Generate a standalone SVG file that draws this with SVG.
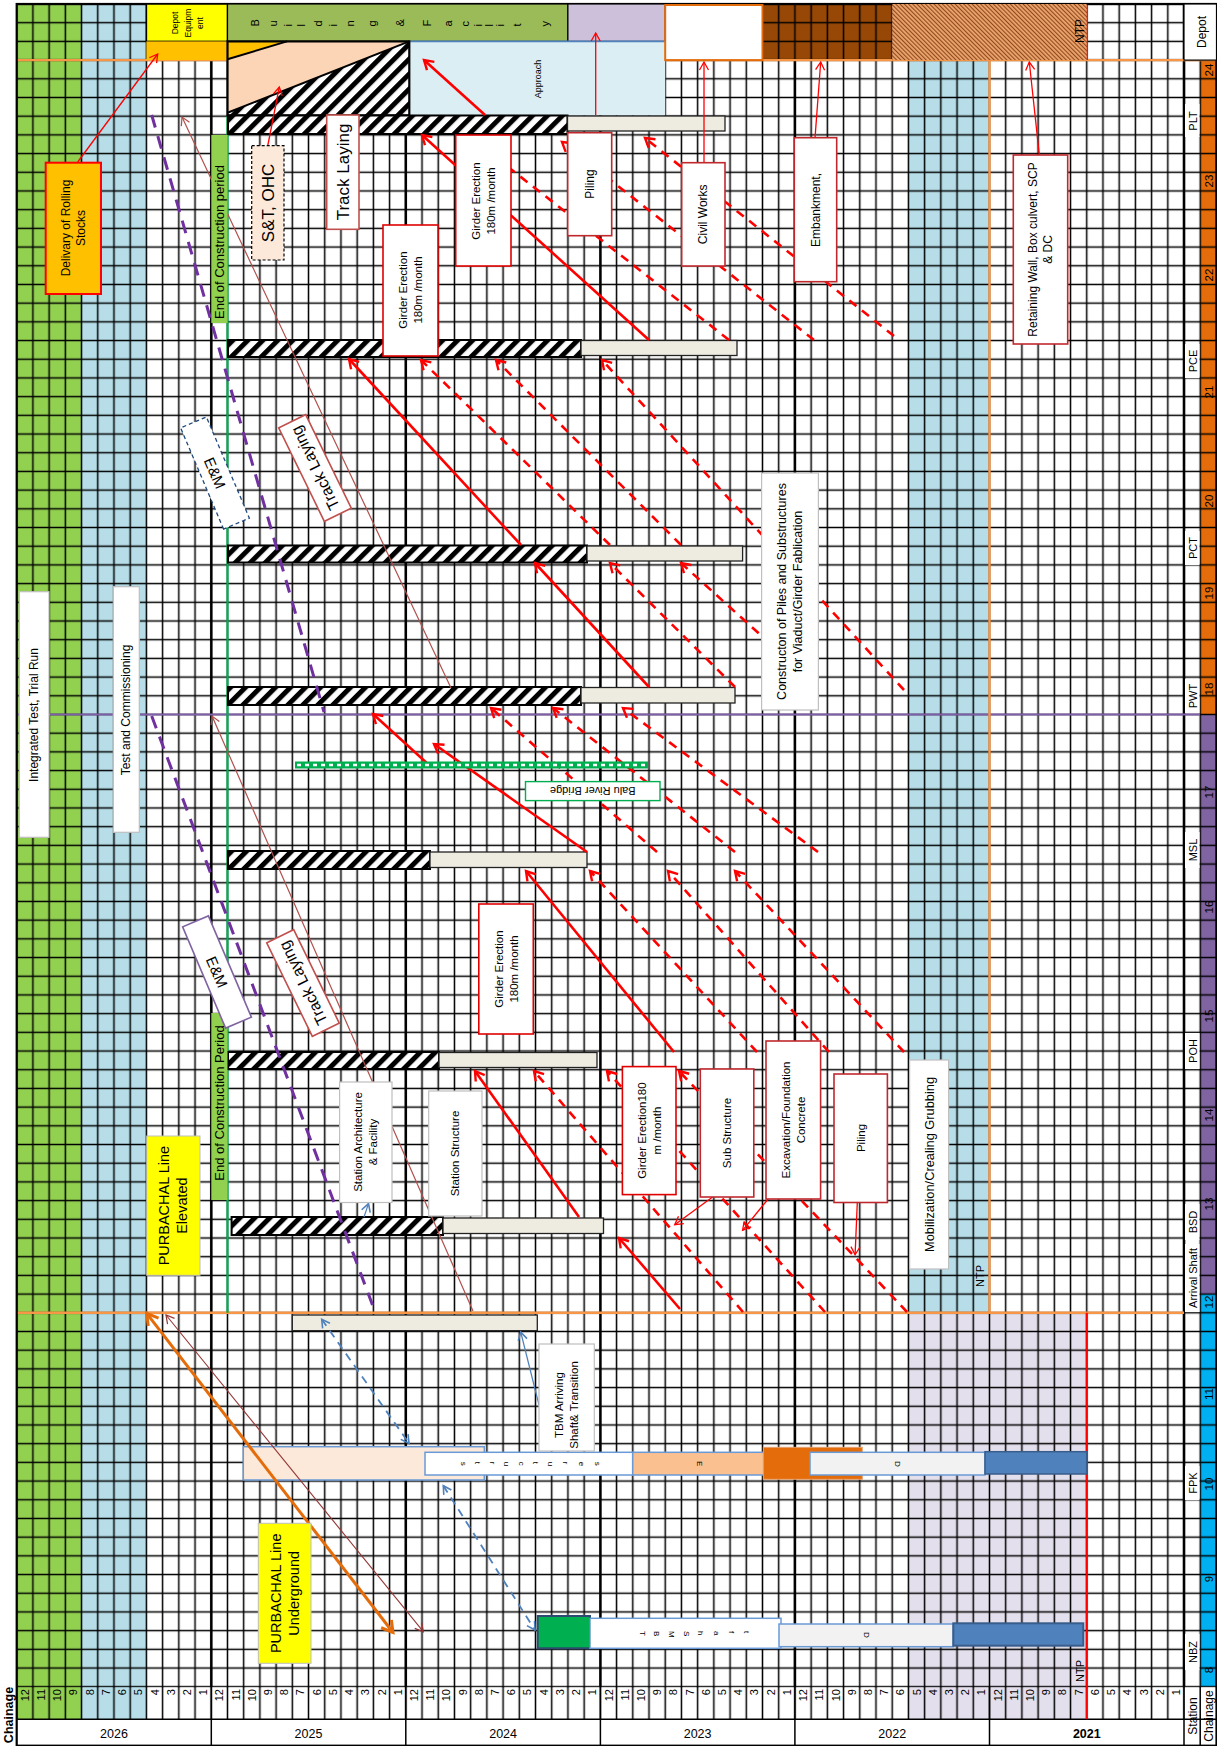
<svg xmlns="http://www.w3.org/2000/svg" width="1217" height="1746" viewBox="0 0 1217 1746">
<defs>
<style>
.t{font-family:"Liberation Sans",Arial,sans-serif;fill:#000}
.rb{fill:#fff;stroke:#E00000;stroke-width:1.6}
.db{fill:#fff;stroke:#C0282D;stroke-width:1.6}
.gb{fill:#fff;stroke:#BFBFBF;stroke-width:1.2}
.hb{fill:url(#hatch);stroke:#000;stroke-width:2}
.gr{fill:#EEECE1;stroke:#222;stroke-width:1.3}
.sr{stroke:#FF0000;stroke-width:2.6;fill:none}
.dr{stroke:#FF0000;stroke-width:2.6;fill:none;stroke-dasharray:9 7}
.tr{stroke:#FF0000;stroke-width:1.3;fill:none}
.tb{stroke:#B0504D;stroke-width:1.2;fill:none}
.pd{stroke:#7030A0;stroke-width:3;fill:none;stroke-dasharray:13 9}
.bd{stroke:#4F81BD;stroke-width:1.8;fill:none;stroke-dasharray:8 6}
</style>
<pattern id="grid" patternUnits="userSpaceOnUse" x="8.5935" y="-5.3485" width="16.213" height="18.697"><path d="M0 9.3485H16.213M8.1065 0V18.697" stroke="#000" stroke-width="1.5" fill="none"/></pattern>
<pattern id="vgrid" patternUnits="userSpaceOnUse" x="8.5935" y="0" width="16.213" height="40"><path d="M8.1065 0V40" stroke="#000" stroke-width="1.5" fill="none"/></pattern>
<pattern id="hatch" patternUnits="userSpaceOnUse" width="10.6" height="10.6" patternTransform="rotate(45)"><rect width="10.6" height="10.6" fill="#fff"/><rect width="5" height="10.6" fill="#000"/></pattern>
<pattern id="fine" patternUnits="userSpaceOnUse" width="3" height="3" patternTransform="rotate(-45)"><rect width="3" height="3" fill="#EDA46E"/><rect width="1.1" height="3" fill="#8E4A1C"/></pattern>
<marker id="aR" markerUnits="userSpaceOnUse" markerWidth="14" markerHeight="14" refX="11" refY="7" orient="auto"><path d="M2,1.5 L11,7 L2,12.5" fill="none" stroke="#FF0000" stroke-width="2.4" stroke-dasharray="none"/></marker>
<marker id="aRt" markerUnits="userSpaceOnUse" markerWidth="12" markerHeight="12" refX="10" refY="6" orient="auto"><path d="M2,1.5 L10,6 L2,10.5" fill="none" stroke="#FF0000" stroke-width="1.3"/></marker>
<marker id="aBr" markerUnits="userSpaceOnUse" markerWidth="12" markerHeight="12" refX="10" refY="6" orient="auto"><path d="M2,1.5 L10,6 L2,10.5" fill="none" stroke="#B0504D" stroke-width="1.2"/></marker>
<marker id="aO" markerUnits="userSpaceOnUse" markerWidth="16" markerHeight="16" refX="13" refY="8" orient="auto-start-reverse"><path d="M2,1.5 L13,8 L2,14.5" fill="none" stroke="#E46C0A" stroke-width="3"/></marker>
<marker id="aB" markerUnits="userSpaceOnUse" markerWidth="12" markerHeight="12" refX="10" refY="6" orient="auto-start-reverse"><path d="M2,1.5 L10,6 L2,10.5" fill="none" stroke="#4F81BD" stroke-width="1.6" stroke-dasharray="none"/></marker>
<marker id="aBd" markerUnits="userSpaceOnUse" markerWidth="12" markerHeight="12" refX="10" refY="6" orient="auto-start-reverse"><path d="M2,1.5 L10,6 L2,10.5" fill="none" stroke="#943634" stroke-width="1.2"/></marker>
</defs>

<g id="background">
<rect x="0" y="0" width="1217" height="1746" fill="#fff"/>
<rect x="16.7" y="4" width="64.9" height="1715.3" fill="#92D050"/>
<rect x="81.6" y="4" width="64.8" height="1715.3" fill="#B7DEE8"/>
<rect x="908.4" y="60.1" width="81.1" height="1252.7" fill="#B7DEE8"/>
<rect x="908.4" y="1312.8" width="178.4" height="406.5" fill="#E4DFEC"/>
<rect x="762.5" y="4" width="129.7" height="56.1" fill="#974806"/>
<rect x="1200.2" y="60.1" width="16.3" height="654.4" fill="#E46C0A"/>
<rect x="1200.2" y="714.5" width="16.3" height="579.6" fill="#8064A2"/>
<rect x="1200.2" y="1294.1" width="16.3" height="392.6" fill="#00B0F0"/>
</g>

<g id="grid-lines">
<rect x="16" y="3.3" width="1201" height="1684.1" fill="url(#grid)"/>
<rect x="16" y="1686.7" width="1168.7" height="32.6" fill="url(#vgrid)"/>
<path d="M16.7 1719.3H1216.5M211.3 1686.7V1745.7M405.8 1686.7V1745.7M600.4 1686.7V1745.7M794.9 1686.7V1745.7M989.5 1686.7V1745.7M1184 1686.7V1745.7M1200.2 1686.7V1745.7" stroke="#000" stroke-width="1.5"/>
<path d="M211.3 4V1686.7M405.8 60V1686.7M600.4 60V1686.7M794.9 60V1686.7M1184 4V1686.7" stroke="#000" stroke-width="2.4"/>
<path d="M16.7 60.1H1216.5" stroke="#F79646" stroke-width="2.4"/>
<path d="M16.7 714.5H1200" stroke="#7F5FA8" stroke-width="2.2"/>
<path d="M16.7 1312.8H1184" stroke="#F79646" stroke-width="2.6"/>
<path d="M227.5 116V1312.8" stroke="#00B050" stroke-width="2.2"/>
<path d="M989.5 60.1V1312.8" stroke="#F79646" stroke-width="2.4"/>
<path d="M1086.8 1312.8V1719.3M1086.8 4V60.1" stroke="#FF0000" stroke-width="2"/>
<rect x="16.7" y="4" width="1199.8" height="1741.7" fill="none" stroke="#000" stroke-width="2.2"/>
</g>

<g id="header">
<g id="depot-equipment">
<rect x="146.4" y="4" width="81.1" height="37.4" fill="#FFFF00" stroke="#000" stroke-width="1.5"/>
<rect x="146.4" y="41.4" width="81.1" height="18.7" fill="#FFC000"/>
<text class="t" font-size="8.5" transform="translate(188 23) rotate(-90)" text-anchor="middle"><tspan x="0" y="-10">Depot</tspan><tspan x="0" y="2.5">Equipm</tspan><tspan x="0" y="15">ent</tspan></text>
</g>
<g id="building-facility">
<rect x="227.5" y="4" width="340.4" height="37.4" fill="#9BBB59" stroke="#000" stroke-width="1.2"/>
<text class="t" font-size="11" rotate="-90" x="258.9 267.9 276.9 284.4 291.9 298.4 304.9 313.4 321.9 329.4 336.9 345.4 353.9 364.9 375.9 389.9 403.9 417.4 430.9 441.4 451.9 460.4 468.9 475.4 481.9 487.4 492.9 498.4 503.9 512.4 520.9 534.9 548.9" y="26.5">B u i l d i n g &amp; F a c i l i t y</text>
</g>
<rect x="567.9" y="4" width="97.3" height="37.4" fill="#CCC0DA" stroke="#000" stroke-width="1.2"/>
<g id="approach">
<rect x="409.3" y="41.4" width="255.9" height="74" fill="#DAEEF3"/>
<path d="M409.3 41.4H665.2" stroke="#4F81BD" stroke-width="1.6"/>
<text class="t" font-size="9" transform="translate(537.7 79) rotate(-90)" text-anchor="middle" dominant-baseline="central">Approach</text>
</g>
<rect x="665.2" y="5" width="97.3" height="55.1" fill="#fff" stroke="#E46C0A" stroke-width="2"/>
<g id="ntp-depot">
<rect x="892.2" y="4" width="194.6" height="56.1" fill="url(#fine)"/>
<text class="t" font-size="12" transform="translate(1080 31) rotate(-90)" text-anchor="middle" dominant-baseline="central" fill="#333">NTP</text>
</g>
<g id="depot-building">
<polygon points="227.5,112.7 409.3,41.4 409.3,115.4 227.5,115.4" fill="url(#hatch)"/>
<polygon points="227.5,59.3 287,41.4 409.3,41.4 227.5,112.7" fill="#FBD5B5"/>
<polygon points="227.5,41.4 287,41.4 227.5,59.3" fill="#FFC000"/>
<path d="M227.5 59.3L287 41.4M227.5 112.7L409.3 41.4" stroke="#000" stroke-width="2"/>
<rect x="227.5" y="41.4" width="181.8" height="74" fill="none" stroke="#000" stroke-width="2.2"/>
</g>
<rect x="1184" y="4" width="32.5" height="56.1" fill="#fff" stroke="#000" stroke-width="1.2"/>
<text class="t" font-size="12" transform="translate(1202 32) rotate(-90)" text-anchor="middle" dominant-baseline="central">Depot</text>
</g>

<g id="axis">
<g fill="#fff">
<rect x="1185" y="104" width="14.5" height="33"/>
<rect x="1185" y="344" width="14.5" height="34"/>
<rect x="1185" y="531" width="14.5" height="34"/>
<rect x="1185" y="679" width="14.5" height="34"/>
<rect x="1185" y="832" width="14.5" height="36"/>
<rect x="1185" y="1033" width="14.5" height="36"/>
<rect x="1185" y="1204" width="14.5" height="36"/>
<rect x="1185" y="1244" width="14.5" height="68"/>
<rect x="1185" y="1466" width="14.5" height="34"/>
<rect x="1185" y="1634" width="14.5" height="36"/>
</g>
<g class="t" font-size="11" text-anchor="middle" dominant-baseline="central">
<text transform="translate(1193 121) rotate(-90)">PLT</text>
<text transform="translate(1193 361) rotate(-90)">PCE</text>
<text transform="translate(1193 548) rotate(-90)">PCT</text>
<text transform="translate(1193 696) rotate(-90)">PWT</text>
<text transform="translate(1193 850) rotate(-90)">MSL</text>
<text transform="translate(1193 1051) rotate(-90)">POH</text>
<text transform="translate(1193 1222) rotate(-90)">BSD</text>
<text transform="translate(1193 1278) rotate(-90)">Arrival Shaft</text>
<text transform="translate(1193 1483) rotate(-90)">FPK</text>
<text transform="translate(1193 1652) rotate(-90)">NBZ</text>
</g>
<g class="t" font-size="11.5" text-anchor="middle" dominant-baseline="central">
<text transform="translate(1208.5 70) rotate(-90)">24</text>
<text transform="translate(1208.5 181) rotate(-90)">23</text>
<text transform="translate(1208.5 275) rotate(-90)">22</text>
<text transform="translate(1208.5 392) rotate(-90)">21</text>
<text transform="translate(1208.5 501) rotate(-90)">20</text>
<text transform="translate(1208.5 593) rotate(-90)">19</text>
<text transform="translate(1208.5 689) rotate(-90)">18</text>
<text transform="translate(1208.5 792) rotate(-90)">17</text>
<text transform="translate(1208.5 907) rotate(-90)">16</text>
<text transform="translate(1208.5 1016) rotate(-90)">15</text>
<text transform="translate(1208.5 1115) rotate(-90)">14</text>
<text transform="translate(1208.5 1204) rotate(-90)">13</text>
<text transform="translate(1208.5 1302) rotate(-90)">12</text>
<text transform="translate(1208.5 1394) rotate(-90)">11</text>
<text transform="translate(1208.5 1484) rotate(-90)">10</text>
<text transform="translate(1208.5 1579) rotate(-90)">9</text>
<text transform="translate(1208.5 1670) rotate(-90)">8</text>
</g>
<g class="t" font-size="11" text-anchor="end" dominant-baseline="central">
<text transform="translate(24.8 1689) rotate(-90)">12</text><text transform="translate(41 1689) rotate(-90)">11</text><text transform="translate(57.2 1689) rotate(-90)">10</text><text transform="translate(73.4 1689) rotate(-90)">9</text><text transform="translate(89.7 1689) rotate(-90)">8</text><text transform="translate(105.9 1689) rotate(-90)">7</text><text transform="translate(122.1 1689) rotate(-90)">6</text><text transform="translate(138.3 1689) rotate(-90)">5</text><text transform="translate(154.5 1689) rotate(-90)">4</text><text transform="translate(170.7 1689) rotate(-90)">3</text><text transform="translate(186.9 1689) rotate(-90)">2</text><text transform="translate(203.1 1689) rotate(-90)">1</text>
<text transform="translate(219.4 1689) rotate(-90)">12</text><text transform="translate(235.6 1689) rotate(-90)">11</text><text transform="translate(251.8 1689) rotate(-90)">10</text><text transform="translate(268 1689) rotate(-90)">9</text><text transform="translate(284.2 1689) rotate(-90)">8</text><text transform="translate(300.4 1689) rotate(-90)">7</text><text transform="translate(316.6 1689) rotate(-90)">6</text><text transform="translate(332.8 1689) rotate(-90)">5</text><text transform="translate(349.1 1689) rotate(-90)">4</text><text transform="translate(365.3 1689) rotate(-90)">3</text><text transform="translate(381.5 1689) rotate(-90)">2</text><text transform="translate(397.7 1689) rotate(-90)">1</text>
<text transform="translate(413.9 1689) rotate(-90)">12</text><text transform="translate(430.1 1689) rotate(-90)">11</text><text transform="translate(446.3 1689) rotate(-90)">10</text><text transform="translate(462.5 1689) rotate(-90)">9</text><text transform="translate(478.8 1689) rotate(-90)">8</text><text transform="translate(495 1689) rotate(-90)">7</text><text transform="translate(511.2 1689) rotate(-90)">6</text><text transform="translate(527.4 1689) rotate(-90)">5</text><text transform="translate(543.6 1689) rotate(-90)">4</text><text transform="translate(559.8 1689) rotate(-90)">3</text><text transform="translate(576 1689) rotate(-90)">2</text><text transform="translate(592.3 1689) rotate(-90)">1</text>
<text transform="translate(608.5 1689) rotate(-90)">12</text><text transform="translate(624.7 1689) rotate(-90)">11</text><text transform="translate(640.9 1689) rotate(-90)">10</text><text transform="translate(657.1 1689) rotate(-90)">9</text><text transform="translate(673.3 1689) rotate(-90)">8</text><text transform="translate(689.5 1689) rotate(-90)">7</text><text transform="translate(705.8 1689) rotate(-90)">6</text><text transform="translate(722 1689) rotate(-90)">5</text><text transform="translate(738.2 1689) rotate(-90)">4</text><text transform="translate(754.4 1689) rotate(-90)">3</text><text transform="translate(770.6 1689) rotate(-90)">2</text><text transform="translate(786.8 1689) rotate(-90)">1</text>
<text transform="translate(803 1689) rotate(-90)">12</text><text transform="translate(819.2 1689) rotate(-90)">11</text><text transform="translate(835.5 1689) rotate(-90)">10</text><text transform="translate(851.7 1689) rotate(-90)">9</text><text transform="translate(867.9 1689) rotate(-90)">8</text><text transform="translate(884.1 1689) rotate(-90)">7</text><text transform="translate(900.3 1689) rotate(-90)">6</text><text transform="translate(916.5 1689) rotate(-90)">5</text><text transform="translate(932.7 1689) rotate(-90)">4</text><text transform="translate(949 1689) rotate(-90)">3</text><text transform="translate(965.2 1689) rotate(-90)">2</text><text transform="translate(981.4 1689) rotate(-90)">1</text>
<text transform="translate(997.6 1689) rotate(-90)">12</text><text transform="translate(1013.8 1689) rotate(-90)">11</text><text transform="translate(1030 1689) rotate(-90)">10</text><text transform="translate(1046.2 1689) rotate(-90)">9</text><text transform="translate(1062.4 1689) rotate(-90)">8</text><text transform="translate(1078.7 1689) rotate(-90)">7</text><text transform="translate(1094.9 1689) rotate(-90)">6</text><text transform="translate(1111.1 1689) rotate(-90)">5</text><text transform="translate(1127.3 1689) rotate(-90)">4</text><text transform="translate(1143.5 1689) rotate(-90)">3</text><text transform="translate(1159.7 1689) rotate(-90)">2</text><text transform="translate(1175.9 1689) rotate(-90)">1</text>
</g>
<g class="t" font-size="12.5" text-anchor="middle">
<text x="114" y="1738">2026</text><text x="308.5" y="1738">2025</text><text x="503.1" y="1738">2024</text><text x="697.6" y="1738">2023</text><text x="892.2" y="1738">2022</text><text x="1086.8" y="1738" font-weight="bold">2021</text>
</g>
<text class="t" font-size="12" transform="translate(1192.5 1716) rotate(-90)" text-anchor="middle" dominant-baseline="central">Station</text>
<text class="t" font-size="12" transform="translate(1208.5 1716) rotate(-90)" text-anchor="middle" dominant-baseline="central">Chainage</text>
<text class="t" font-size="12.5" font-weight="bold" transform="translate(8.5 1715) rotate(-90)" text-anchor="middle" dominant-baseline="central">Chainage</text>
<text class="t" font-size="11" transform="translate(1080 1671) rotate(-90)" text-anchor="middle" dominant-baseline="central">NTP</text>
<text class="t" font-size="11" transform="translate(980 1276) rotate(-90)" text-anchor="middle" dominant-baseline="central">NTP</text>
</g>

<g id="stations">
<g id="bar-PLT"><rect class="hb" x="228" y="115.5" width="339.5" height="18.5"/><rect class="gr" x="567.5" y="116" width="157.5" height="15"/></g>
<g id="bar-PCE"><rect class="hb" x="228" y="340" width="353" height="17"/><rect class="gr" x="581" y="340.5" width="156" height="15"/></g>
<g id="bar-PCT"><rect class="hb" x="228" y="545.5" width="359" height="17"/><rect class="gr" x="587" y="546" width="155.6" height="15"/></g>
<g id="bar-PWT"><rect class="hb" x="228" y="687" width="353" height="18"/><rect class="gr" x="581" y="687.5" width="154" height="15.5"/></g>
<g id="bar-MSL"><rect class="hb" x="228" y="851" width="202" height="18"/><rect class="gr" x="430" y="852" width="157" height="15.5"/></g>
<g id="bar-POH"><rect class="hb" x="228" y="1052" width="211" height="17"/><rect class="gr" x="439" y="1052.5" width="158" height="15"/></g>
<g id="bar-BSD"><rect class="hb" x="231.6" y="1217" width="211.4" height="18"/><rect class="gr" x="443" y="1218" width="160.5" height="15.5"/></g>
<g id="bar-arrival"><rect class="gr" x="292.3" y="1315" width="245" height="15.7"/></g>
<g id="bar-FPK">
<rect x="243.3" y="1446.7" width="241" height="33.3" fill="#FDE9D9" stroke="#6A9AD6" stroke-width="1.5"/>
<rect x="425" y="1452.3" width="207.7" height="22.7" fill="#fff" stroke="#6A9AD6" stroke-width="1.5"/>
<rect x="632.7" y="1452.3" width="132.3" height="22.7" fill="#FAC090" stroke="#6A9AD6" stroke-width="1.5"/>
<rect x="763.3" y="1447.3" width="99" height="32" fill="#E46C0A" stroke="#E6A070" stroke-width="1"/>
<rect x="810" y="1452.3" width="175" height="22.7" fill="#F2F2F2" stroke="#6A9AD6" stroke-width="1.5"/>
<rect x="985" y="1451.7" width="101.7" height="22.3" fill="#4F81BD" stroke="#385D8A" stroke-width="1.5"/>
<text class="t" font-size="8" rotate="90" x="460.9 468.1 475.3 482.6 489.9 497.1 504.3 511.5 518.6 525.6 532.6 540.5 548.3 555.4 562.6 570.9 579.3 587.1 594.9" y="1461.7">s t r u c t u r e s</text>
<text class="t" font-size="8" rotate="90" x="697" y="1461">E</text>
<text class="t" font-size="8" rotate="90" x="895.3" y="1461">D</text>
</g>
<g id="bar-NBZ">
<rect x="537.7" y="1616" width="52.3" height="32.3" fill="#00B050" stroke="#2E4A70" stroke-width="2"/>
<rect x="590" y="1618.3" width="191" height="30" fill="#fff" stroke="#6A9AD6" stroke-width="1.5"/>
<rect x="779" y="1624" width="174.3" height="22.7" fill="#F2F2F2" stroke="#6A9AD6" stroke-width="1.5"/>
<rect x="953.3" y="1623.3" width="130" height="22.4" fill="#4F81BD" stroke="#385D8A" stroke-width="2"/>
<text class="t" font-size="8" rotate="90" x="640.3 647.3 654.3 661.8 669.3 676.5 683.6 690.6 697.6 706 714.3 721.8 729.3 736.8 744.3" y="1631">T B M S h a f t</text>
<text class="t" font-size="8" rotate="90" x="864.3" y="1632">D</text>
</g>
</g>

<g id="connectors">
<line class="sr" x1="649" y1="340" x2="422" y2="135" marker-end="url(#aR)"/>
<line class="sr" x1="485" y1="115" x2="424" y2="60" marker-end="url(#aR)"/>
<line class="dr" x1="729" y1="340" x2="480" y2="145" marker-end="url(#aR)"/>
<line class="dr" x1="814" y1="340" x2="562" y2="142" marker-end="url(#aR)"/>
<line class="dr" x1="894" y1="336" x2="645" y2="138" marker-end="url(#aR)"/>
<line class="sr" x1="521" y1="545" x2="349" y2="359" marker-end="url(#aR)"/>
<line class="dr" x1="610" y1="545" x2="421" y2="360" marker-end="url(#aR)"/>
<line class="dr" x1="681" y1="545" x2="496" y2="360" marker-end="url(#aR)"/>
<line class="dr" x1="904" y1="690" x2="602" y2="360" marker-end="url(#aR)"/>
<line class="sr" x1="649" y1="687" x2="535" y2="563" marker-end="url(#aR)"/>
<line class="dr" x1="735" y1="687" x2="610" y2="563" marker-end="url(#aR)"/>
<line class="dr" x1="818" y1="687" x2="681" y2="563" marker-end="url(#aR)"/>
<line class="sr" x1="429" y1="765" x2="373" y2="714" marker-end="url(#aR)"/>
<line class="sr" x1="587" y1="852" x2="434" y2="744" marker-end="url(#aR)"/>
<line class="dr" x1="657" y1="852" x2="491" y2="708" marker-end="url(#aR)"/>
<line class="dr" x1="735" y1="852" x2="553" y2="708" marker-end="url(#aR)"/>
<line class="dr" x1="818" y1="852" x2="623" y2="708" marker-end="url(#aR)"/>
<line class="sr" x1="674" y1="1052" x2="526" y2="871" marker-end="url(#aR)"/>
<line class="dr" x1="757" y1="1052" x2="590" y2="871" marker-end="url(#aR)"/>
<line class="dr" x1="829" y1="1052" x2="668" y2="871" marker-end="url(#aR)"/>
<line class="dr" x1="904" y1="1052" x2="735" y2="871" marker-end="url(#aR)"/>
<line class="sr" x1="579" y1="1217" x2="475" y2="1071" marker-end="url(#aR)"/>
<line class="sr" x1="680" y1="1309" x2="619" y2="1238" marker-end="url(#aR)"/>
<line class="dr" x1="743" y1="1312" x2="534" y2="1071" marker-end="url(#aR)"/>
<line class="dr" x1="825" y1="1312" x2="607" y2="1071" marker-end="url(#aR)"/>
<line class="dr" x1="907" y1="1312" x2="679" y2="1071" marker-end="url(#aR)"/>
<line class="tr" x1="704" y1="163" x2="704" y2="62" marker-end="url(#aRt)"/>
<line class="tr" x1="595.7" y1="115" x2="595.7" y2="33" marker-end="url(#aRt)"/>
<line class="tr" x1="815" y1="138" x2="820.7" y2="62" marker-end="url(#aRt)"/>
<line class="tr" x1="1039.3" y1="155" x2="1029.3" y2="62" marker-end="url(#aRt)"/>
<line class="tr" x1="77.7" y1="162" x2="157.7" y2="54" marker-end="url(#aRt)"/>
<line class="tr" x1="267.7" y1="146" x2="279.3" y2="87" marker-end="url(#aRt)"/>
<line class="tr" x1="712.6" y1="1197" x2="674.7" y2="1224.7" marker-end="url(#aRt)"/>
<line class="tr" x1="768.2" y1="1199" x2="742.6" y2="1230.3" marker-end="url(#aRt)"/>
<line class="tr" x1="857.3" y1="1202.5" x2="855.1" y2="1254.8" marker-end="url(#aRt)"/>
<line x1="364" y1="1217" x2="368.5" y2="1203.6" stroke="#4F81BD" stroke-width="1.2" marker-end="url(#aB)"/>
<line class="pd" x1="151.7" y1="115" x2="324" y2="712"/>
<line class="pd" x1="151.7" y1="716" x2="374" y2="1309"/>
<line class="tb" x1="451" y1="688" x2="182" y2="117" marker-end="url(#aBr)"/>
<line class="tb" x1="473" y1="1311" x2="212" y2="716" marker-end="url(#aBr)"/>
<line x1="146.7" y1="1313.3" x2="393" y2="1632.5" stroke="#E46C0A" stroke-width="3" marker-start="url(#aO)" marker-end="url(#aO)"/>
<line x1="166" y1="1315" x2="423.3" y2="1631.7" stroke="#943634" stroke-width="1.1" marker-start="url(#aBd)" marker-end="url(#aBd)"/>
<line class="bd" x1="321.7" y1="1319.3" x2="409" y2="1443.3" marker-start="url(#aB)" marker-end="url(#aB)"/>
<line class="bd" x1="443.3" y1="1485.7" x2="535" y2="1630" marker-start="url(#aB)" marker-end="url(#aB)"/>
<line x1="539" y1="1405" x2="520.7" y2="1332" stroke="#4F81BD" stroke-width="1.2" marker-end="url(#aB)"/>
<line x1="295" y1="765" x2="648" y2="765" stroke="#00B050" stroke-width="7"/>
<line x1="297" y1="765" x2="648" y2="765" stroke="#fff" stroke-width="2.4" stroke-dasharray="4 4"/>
</g>

<g id="labels">
<g id="delivery"><rect x="45.7" y="162.7" width="55.3" height="131.3" fill="#FFC000" stroke="#FF0000" stroke-width="2"/><text class="t" font-size="12" transform="translate(73.3 228) rotate(-90)" text-anchor="middle" dominant-baseline="central"><tspan x="0" y="-7.5">Delivary of Rolling</tspan><tspan x="0" y="7.5">Stocks</tspan></text></g>
<g id="eoc1"><rect x="211.3" y="135" width="16.2" height="188" fill="#92D050"/><text class="t" font-size="13" transform="translate(219.8 242) rotate(-90)" text-anchor="middle" dominant-baseline="central">End of Construction period</text></g>
<g id="eoc2"><rect x="211.3" y="1013" width="16.2" height="187" fill="#92D050"/><text class="t" font-size="13" transform="translate(219.8 1103) rotate(-90)" text-anchor="middle" dominant-baseline="central">End of Construction Period</text></g>
<g id="st-ohc"><rect x="251.7" y="145.7" width="32.3" height="114.3" fill="#FDE9D9" stroke="#000" stroke-width="1.2" stroke-dasharray="3 2"/><text class="t" font-size="17" transform="translate(268 203) rotate(-90)" text-anchor="middle" dominant-baseline="central">S&amp;T, OHC</text></g>
<g id="track1"><rect x="326.7" y="115" width="32.3" height="114.3" fill="#fff" stroke="#C0504D" stroke-width="1.6"/><text class="t" font-size="17" transform="translate(343 172) rotate(-90)" text-anchor="middle" dominant-baseline="central">Track Laying</text></g>
<g id="girder1"><rect class="rb" x="455.7" y="135" width="55.3" height="131"/><text class="t" font-size="11.5" transform="translate(483.3 201) rotate(-90)" text-anchor="middle" dominant-baseline="central"><tspan x="0" y="-7.5">Girder Erection</tspan><tspan x="0" y="7.5">180m /month</tspan></text></g>
<g id="girder2"><rect class="rb" x="383" y="225" width="55" height="131"/><text class="t" font-size="11.5" transform="translate(410.5 290) rotate(-90)" text-anchor="middle" dominant-baseline="central"><tspan x="0" y="-7.5">Girder Erection</tspan><tspan x="0" y="7.5">180m /month</tspan></text></g>
<g id="piling1"><rect class="db" x="567.7" y="132.7" width="44" height="103"/><text class="t" font-size="12" transform="translate(589.7 184) rotate(-90)" text-anchor="middle" dominant-baseline="central">Piling</text></g>
<g id="civil"><rect class="db" x="681.7" y="162.7" width="43.3" height="103.3"/><text class="t" font-size="12" transform="translate(703.3 214.3) rotate(-90)" text-anchor="middle" dominant-baseline="central">Civil Works</text></g>
<g id="embank"><rect class="db" x="794.3" y="137.7" width="42.4" height="144"/><text class="t" font-size="12" transform="translate(815.5 210) rotate(-90)" text-anchor="middle" dominant-baseline="central">Embankment,</text></g>
<g id="retain"><rect class="db" x="1013.3" y="155" width="54.4" height="189"/><text class="t" font-size="12" transform="translate(1040.5 249.5) rotate(-90)" text-anchor="middle" dominant-baseline="central"><tspan x="0" y="-7.5">Retaining Wall, Box culvert, SCP</tspan><tspan x="0" y="7.5">&amp; DC</tspan></text></g>
<g id="int-test"><rect class="gb" x="19.3" y="591.7" width="29.7" height="245.6"/><text class="t" font-size="12" transform="translate(34.2 715) rotate(-90)" text-anchor="middle" dominant-baseline="central">Integrated Test, Trial Run</text></g>
<g id="test-comm"><rect class="gb" x="113.3" y="586.7" width="26" height="245.6"/><text class="t" font-size="12" transform="translate(126.3 710) rotate(-90)" text-anchor="middle" dominant-baseline="central">Test and Commissioning</text></g>
<g id="em1"><rect x="-55" y="-14" width="110" height="28" transform="translate(215 473) rotate(-113)" fill="#fff" stroke="#1F497D" stroke-width="1.3" stroke-dasharray="4 3"/><text class="t" font-size="15" transform="translate(215 473) rotate(67)" text-anchor="middle" dominant-baseline="central">E&amp;M</text></g>
<g id="track2"><rect x="-52" y="-15" width="104" height="30" transform="translate(315 468) rotate(-116)" fill="#fff" stroke="#C0504D" stroke-width="1.6"/><text class="t" font-size="16" transform="translate(315 468) rotate(-116)" text-anchor="middle" dominant-baseline="central">Track Laying</text></g>
<g id="em2"><rect x="-55" y="-14" width="110" height="28" transform="translate(217 972) rotate(-113)" fill="#fff" stroke="#8064A2" stroke-width="1.6"/><text class="t" font-size="15" transform="translate(217 972) rotate(67)" text-anchor="middle" dominant-baseline="central">E&amp;M</text></g>
<g id="track3"><rect x="-52" y="-15" width="104" height="30" transform="translate(303 983) rotate(-116)" fill="#fff" stroke="#C0504D" stroke-width="1.6"/><text class="t" font-size="16" transform="translate(303 983) rotate(-116)" text-anchor="middle" dominant-baseline="central">Track Laying</text></g>
<g id="piles-sub"><rect class="gb" x="761.6" y="473" width="56.8" height="237"/><text class="t" font-size="12.5" transform="translate(790 591.5) rotate(-90)" text-anchor="middle" dominant-baseline="central"><tspan x="0" y="-8">Constructon of Piles and Substructures</tspan><tspan x="0" y="8">for Viaduct/Girder Fablication</tspan></text></g>
<g id="balu"><rect x="525.5" y="781.6" width="134.5" height="19" fill="#fff" stroke="#00B050" stroke-width="1.4"/><text class="t" font-size="11" transform="translate(592.8 791) rotate(180)" text-anchor="middle" dominant-baseline="central">Balu River Bridge</text></g>
<g id="girder3"><rect class="rb" x="478.8" y="904" width="54.5" height="130"/><text class="t" font-size="11.5" transform="translate(506 969) rotate(-90)" text-anchor="middle" dominant-baseline="central"><tspan x="0" y="-7.5">Girder Erection</tspan><tspan x="0" y="7.5">180m /month</tspan></text></g>
<g id="st-arch"><rect class="gb" x="339.6" y="1082" width="52.4" height="120.5"/><text class="t" font-size="11.5" transform="translate(365.8 1142) rotate(-90)" text-anchor="middle" dominant-baseline="central"><tspan x="0" y="-7.5">Station Architecture</tspan><tspan x="0" y="7.5">&amp; Facility</tspan></text></g>
<g id="st-struct"><rect class="gb" x="428.7" y="1091" width="53.3" height="125"/><text class="t" font-size="11.5" transform="translate(455.3 1153.5) rotate(-90)" text-anchor="middle" dominant-baseline="central">Station Structure</text></g>
<g id="girder4"><rect class="rb" x="622.4" y="1066.6" width="53.6" height="128"/><text class="t" font-size="11.5" transform="translate(649 1130.6) rotate(-90)" text-anchor="middle" dominant-baseline="central"><tspan x="0" y="-7.5">Girder Erection180</tspan><tspan x="0" y="7.5">m /month</tspan></text></g>
<g id="substr"><rect class="db" x="700.3" y="1069" width="53.5" height="128"/><text class="t" font-size="11.5" transform="translate(727 1133) rotate(-90)" text-anchor="middle" dominant-baseline="central">Sub Structure</text></g>
<g id="excav"><rect class="db" x="766" y="1041" width="54.6" height="158"/><text class="t" font-size="11.5" transform="translate(793.3 1120) rotate(-90)" text-anchor="middle" dominant-baseline="central"><tspan x="0" y="-7.5">Excavation/Foundation</tspan><tspan x="0" y="7.5">Concrete</tspan></text></g>
<g id="piling2"><rect class="db" x="834" y="1074" width="53.4" height="128.5"/><text class="t" font-size="11.5" transform="translate(860.7 1138) rotate(-90)" text-anchor="middle" dominant-baseline="central">Piling</text></g>
<g id="mobil"><rect class="gb" x="909.6" y="1060" width="39" height="209"/><text class="t" font-size="12.8" transform="translate(929 1164.5) rotate(-90)" text-anchor="middle" dominant-baseline="central">Mobilization/Crealing Grubbing</text></g>
<g id="elevated"><rect x="146.7" y="1136" width="53.3" height="139.3" fill="#FFFF00" stroke="#BFBFBF" stroke-width="1"/><text class="t" font-size="14.5" transform="translate(173.3 1205.6) rotate(-90)" text-anchor="middle" dominant-baseline="central"><tspan x="0" y="-9">PURBACHAL Line</tspan><tspan x="0" y="9">Elevated</tspan></text></g>
<g id="underground"><rect x="258.3" y="1523.3" width="52.7" height="140" fill="#FFFF00" stroke="#BFBFBF" stroke-width="1"/><text class="t" font-size="14.5" transform="translate(284.7 1593.3) rotate(-90)" text-anchor="middle" dominant-baseline="central"><tspan x="0" y="-9">PURBACHAL Line</tspan><tspan x="0" y="9">Underground</tspan></text></g>
<g id="tbm-arr"><rect class="gb" x="539" y="1344" width="55.3" height="107"/><text class="t" font-size="11.5" transform="translate(566.6 1405) rotate(-90)" text-anchor="middle" dominant-baseline="central"><tspan x="0" y="-7.5">TBM Arriving</tspan><tspan x="0" y="7.5">Shaft&amp; Transition</tspan></text></g>
</g>
</svg>
